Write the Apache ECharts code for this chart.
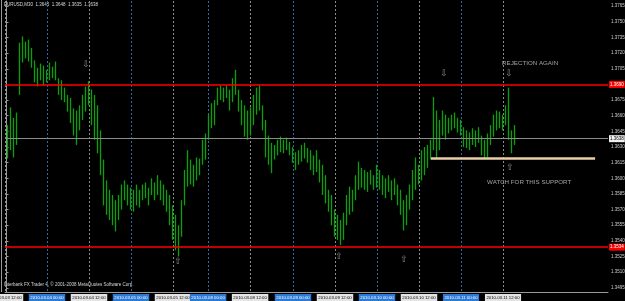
<!DOCTYPE html>
<html><head><meta charset="utf-8">
<script src="https://cdn.jsdelivr.net/npm/echarts@6/dist/echarts.min.js"></script>
<style>html,body{margin:0;padding:0;background:#000}#c{width:625px;height:301px}</style>
</head><body><div id="c"></div>
<script>
const highs = [1.3651,1.3668,1.3658,1.3663,1.3730,1.3736,1.3731,1.3733,1.3725,1.3713,
1.3706,1.3710,1.3708,1.3704,1.3711,1.3707,1.3712,1.3696,1.3694,1.3687,
1.3680,1.3677,1.3667,1.3665,1.3670,1.3680,1.3688,1.3693,1.3685,1.3680,
1.3670,1.3646,1.3618,1.3598,1.3589,1.3584,1.3579,1.3584,1.3594,1.3598,
1.3594,1.3591,1.3589,1.3594,1.3589,1.3594,1.3596,1.3591,1.3600,1.3596,
1.3603,1.3598,1.3594,1.3589,1.3584,1.3574,1.3565,1.3555,1.3579,1.3608,
1.3627,1.3618,1.3613,1.3620,1.3619,1.3637,1.3643,1.3661,1.3672,1.3675,
1.3687,1.3689,1.3687,1.3689,1.3685,1.3696,1.3704,1.3685,1.3675,1.3670,
1.3665,1.3668,1.3680,1.3687,1.3689,1.3670,1.3656,1.3641,1.3634,1.3632,
1.3637,1.3640,1.3637,1.3639,1.3635,1.3630,1.3625,1.3627,1.3632,1.3634,
1.3629,1.3627,1.3622,1.3627,1.3618,1.3613,1.3603,1.3589,1.3584,1.3570,
1.3565,1.3560,1.3567,1.3584,1.3592,1.3589,1.3603,1.3616,1.3610,1.3608,
1.3606,1.3608,1.3603,1.3613,1.3608,1.3603,1.3600,1.3603,1.3598,1.3600,
1.3594,1.3589,1.3579,1.3584,1.3594,1.3608,1.3620,1.3613,1.3627,1.3630,
1.3632,1.3637,1.3678,1.3665,1.3656,1.3665,1.3661,1.3658,1.3661,1.3663,
1.3658,1.3656,1.3649,1.3646,1.3644,1.3648,1.3646,1.3649,1.3641,1.3637,
1.3643,1.3651,1.3661,1.3665,1.3664,1.3661,1.3670,1.3687,1.3646,1.3651];
const lows = [1.3619,1.3627,1.3620,1.3632,1.3680,1.3711,1.3715,1.3712,1.3706,1.3692,
1.3688,1.3694,1.3689,1.3692,1.3694,1.3696,1.3694,1.3680,1.3675,1.3673,
1.3664,1.3653,1.3641,1.3632,1.3646,1.3656,1.3664,1.3670,1.3651,1.3637,
1.3624,1.3603,1.3574,1.3565,1.3560,1.3555,1.3549,1.3560,1.3570,1.3579,
1.3574,1.3570,1.3568,1.3574,1.3572,1.3579,1.3581,1.3574,1.3584,1.3579,
1.3584,1.3579,1.3574,1.3568,1.3555,1.3541,1.3531,1.3525,1.3544,1.3574,
1.3592,1.3594,1.3592,1.3598,1.3603,1.3613,1.3618,1.3637,1.3648,1.3651,
1.3670,1.3675,1.3673,1.3677,1.3665,1.3673,1.3680,1.3664,1.3651,1.3640,
1.3637,1.3641,1.3651,1.3661,1.3665,1.3646,1.3620,1.3613,1.3605,1.3618,
1.3622,1.3625,1.3624,1.3627,1.3622,1.3615,1.3608,1.3613,1.3616,1.3619,
1.3615,1.3608,1.3603,1.3606,1.3596,1.3584,1.3576,1.3568,1.3555,1.3544,
1.3541,1.3536,1.3541,1.3555,1.3565,1.3568,1.3579,1.3589,1.3591,1.3589,
1.3587,1.3594,1.3589,1.3591,1.3589,1.3584,1.3581,1.3587,1.3579,1.3584,
1.3574,1.3565,1.3550,1.3555,1.3570,1.3579,1.3589,1.3594,1.3598,1.3603,
1.3610,1.3618,1.3627,1.3620,1.3627,1.3641,1.3637,1.3643,1.3646,1.3648,
1.3644,1.3641,1.3630,1.3629,1.3627,1.3632,1.3630,1.3634,1.3622,1.3619,
1.3620,1.3632,1.3640,1.3646,1.3648,1.3646,1.3651,1.3637,1.3624,1.3632];

const priceTicks = [1.3495,1.3510,1.3525,1.3540,1.3555,1.3570,1.3585,1.3600,1.3615,1.3630,
1.3645,1.3660,1.3675,1.3705,1.3720,1.3735,1.3750,1.3765];
const timeBars = [-0.5,13.5,27.5,41.5,55.5,67.2,81.2,95.5,109.5,123.5,137.5,151.5,165.5];
const timeLabels = ['2010.03.03 12:00','2010.03.04 00:00','2010.03.04 12:00','2010.03.05 00:00',
'2010.03.05 12:00','2010.03.08 00:00','2010.03.08 12:00','2010.03.09 00:00','2010.03.09 12:00',
'2010.03.10 00:00','2010.03.10 12:00','2010.03.11 00:00','2010.03.11 12:00'];

const resistance = 1.3690;
const supportLow = 1.3534;
const lastPrice = 1.3638;
const watchLevel = 1.3619;
const watchFrom = 141.5, watchTo = 196.2;
const upArrows = [[57.2,1.3520],[110.8,1.3525],[132.5,1.3522],[167.8,1.3610]];
const downArrows = [[26.5,1.3709],[145.8,1.3700],[167.5,1.3700]];
const notes = [{value:[165.2,1.3710], name:'REJECTION AGAIN'},{value:[160.2,1.3596], name:'WATCH FOR THIS SUPPORT'}];

const FF = 'Liberation Sans';
const X0 = -0.5, X1 = 200.5;
const chart = echarts.init(document.getElementById('c'), null, {renderer:'canvas'});
const barData = lows.map((l,i)=>[i,l,highs[i]]);
const findIdx = v => timeBars.findIndex(t => Math.abs(t - v) < 1e-6);
const hLine = (v, color, width, boxBg, boxFg) => [
  {coord:[X0, v], lineStyle:{color:color, width:width, type:'solid'},
   label:{show:true, position:'end', distance:1, formatter:v.toFixed(4), backgroundColor:boxBg, color:boxFg, fontSize:4.5, fontFamily:FF, padding:[1,1]}},
  {coord:[X1, v]}];

chart.setOption({
  backgroundColor:'#000000',
  animation:false,
  grid:{left:5, right:17, top:1, bottom:9, containLabel:false, outerBoundsMode:'none'},
  xAxis:{type:'value', min:X0, max:X1,
    axisLine:{show:true, lineStyle:{color:'#9a9a9a', width:1}},
    axisTick:{show:false}, splitLine:{show:false},
    axisLabel:{customValues:timeBars, margin:2, fontSize:4.3, fontFamily:FF, showMinLabel:true, showMaxLabel:true,
      formatter:(v)=>{const k=findIdx(v); if(k<0) return ''; return (k%2? '{b|':'{w|')+timeLabels[k]+'}';},
      rich:{w:{backgroundColor:'#e4e4e4', color:'#000', fontSize:4.3, fontFamily:FF, padding:[1.5,1.5]},
            b:{backgroundColor:'#2a7ad6', color:'#ffffff', fontSize:4.3, fontFamily:FF, padding:[1.5,1.5]}}}
  },
  yAxis:{type:'value', position:'right', min:1.3491, max:1.3770,
    axisLine:{show:true, lineStyle:{color:'#9a9a9a', width:1}},
    axisTick:{show:true, customValues:priceTicks, length:2, lineStyle:{color:'#9a9a9a'}},
    splitLine:{show:false},
    axisLabel:{customValues:priceTicks, margin:3, fontSize:4.5, fontFamily:FF, color:'#cfcfcf',
      formatter:v=>v.toFixed(4)}
  },
  graphic:[
    {type:'text', left:4, top:2, style:{text:'EURUSD,M30  1.3645  1.3648  1.3635  1.3638', fill:'#d8d8d8', font:'4.5px '+FF}},
    {type:'text', left:4, top:282, style:{text:'Interbank FX Trader 4, © 2001-2008 MetaQuotes Software Corp.', fill:'#d8d8d8', font:'4.5px '+FF}},
    {type:'line', shape:{x1:1.5,y1:0,x2:1.5,y2:292}, style:{stroke:'#9a9a9a', lineWidth:1}}
  ],
  series:[
    {type:'custom', z:1, data:timeBars.map((t,k)=>[t,k]), silent:true,
      renderItem:(params, api)=>{
        const k = api.value(1);
        const top = api.coord([api.value(0), 1.3770]);
        const bot = api.coord([api.value(0), 1.3491]);
        const x = Math.round(top[0]) + 0.5;
        return {type:'line', shape:{x1:x, y1:top[1], x2:x, y2:bot[1]},
          style:{stroke: k%2 ? '#2f6aa8' : '#8a8a8a', lineWidth:1, lineDash:[2,2]}};
      }
    },
    {type:'custom', z:3, data:barData, silent:true,
      renderItem:(params, api)=>{
        const p1 = api.coord([api.value(0), api.value(2)]);
        const p2 = api.coord([api.value(0), api.value(1)]);
        const x = Math.round(p1[0]) + 0.5;
        return {type:'line', shape:{x1:x, y1:p1[1], x2:x, y2:p2[1]}, style:{stroke:'#0d9e0d', lineWidth:1.3}};
      },
      markLine:{silent:true, symbol:'none', z:4,
        data:[
          hLine(lastPrice, '#8c8c8c', 1, '#f0f0f0', '#000'),
          hLine(resistance, '#ff0000', 1.6, '#ff0000', '#fff'),
          hLine(supportLow, '#ff0000', 1.6, '#ff0000', '#fff'),
          [{coord:[watchFrom, watchLevel], lineStyle:{color:'#e9cfa8', width:2.5, type:'solid'}, label:{show:false}}, {coord:[watchTo, watchLevel]}]
        ]}
    },
    {type:'scatter', z:5, silent:true, symbolSize:1, itemStyle:{color:'transparent'}, data:upArrows,
      label:{show:true, position:'inside', formatter:'⇧', color:'#a8a8a8', fontSize:9, fontFamily:'DejaVu Sans'}},
    {type:'scatter', z:5, silent:true, symbolSize:1, itemStyle:{color:'transparent'}, data:downArrows,
      label:{show:true, position:'inside', formatter:'⇩', color:'#a8a8a8', fontSize:9, fontFamily:'DejaVu Sans'}},
    {type:'scatter', z:5, silent:true, symbolSize:1, itemStyle:{color:'transparent'}, data:notes,
      label:{show:true, position:'inside', align:'left', formatter:'{b}', color:'#c8c8c8', fontSize:6.2, fontFamily:FF}}
  ]
});
</script></body></html>
